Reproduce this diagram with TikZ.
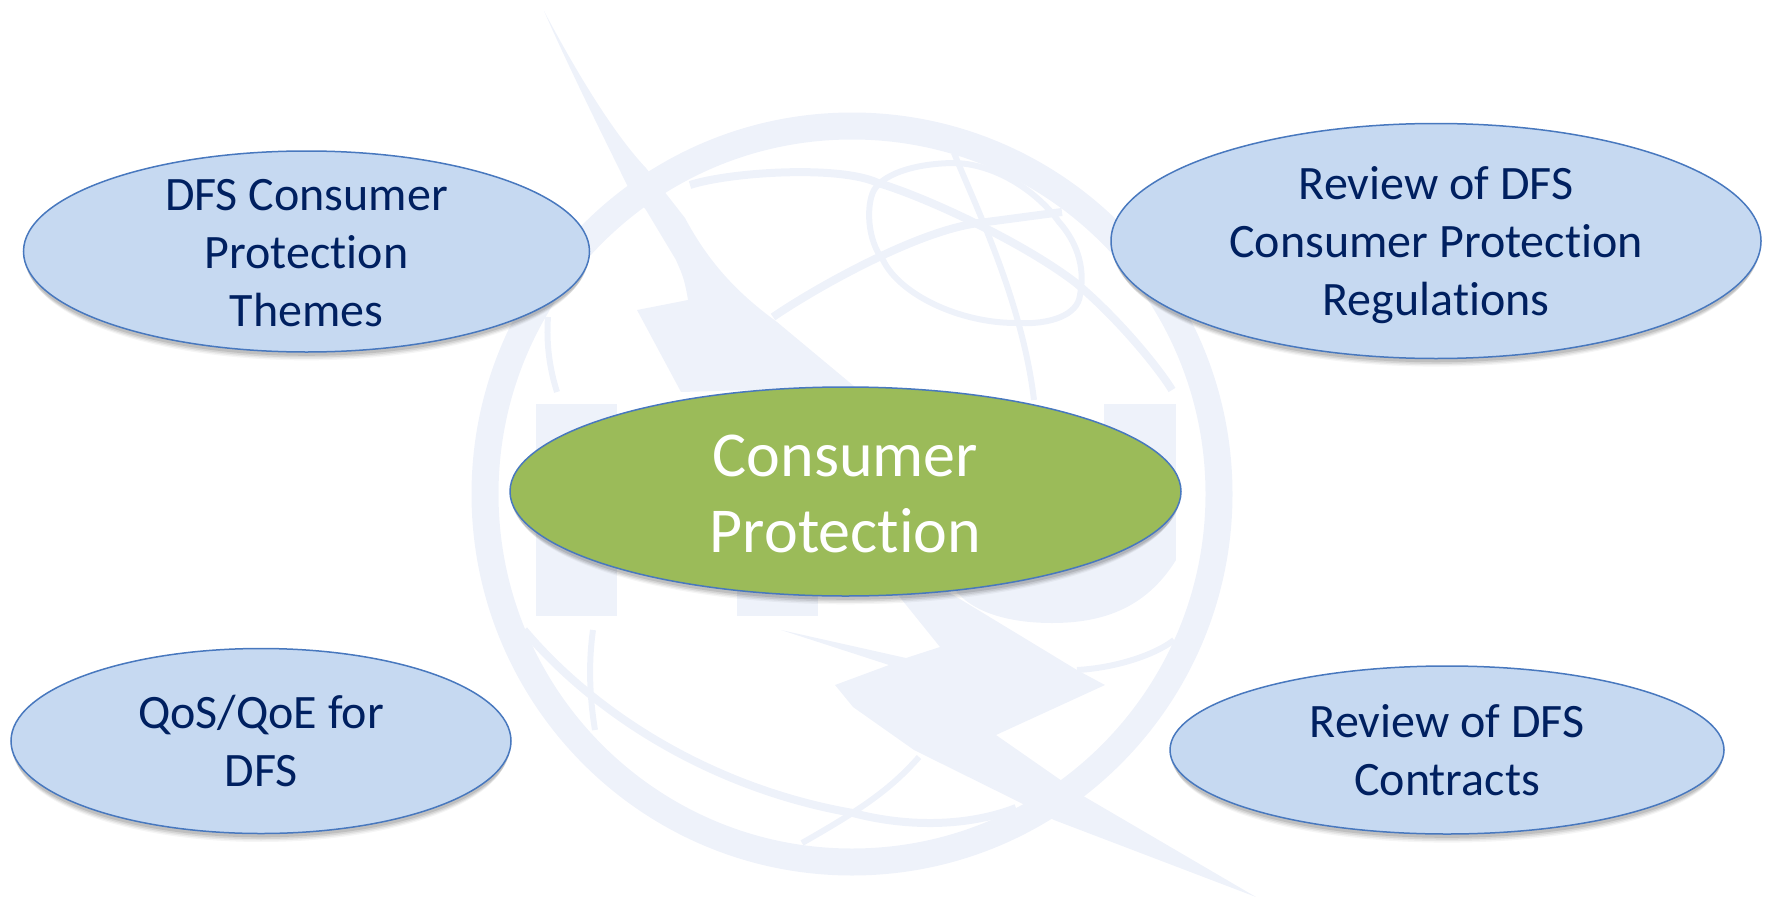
\documentclass[tikz,border=0pt]{standalone}
\usepackage{fontspec}
\setmainfont{Carlito}[Ligatures=NoCommon]
\usepackage{tikz}
\usetikzlibrary{shapes.geometric, shadows}
\definecolor{wash}{RGB}{238,242,250}
\definecolor{ovalfill}{RGB}{198,217,241}
\definecolor{ovalline}{RGB}{72,120,190}
\definecolor{corefill}{RGB}{155,187,89}
\definecolor{navy}{RGB}{0,32,96}
\begin{document}
\begin{tikzpicture}
  [
    x=1pt, y=-1pt,
    Oval/.style={ellipse, draw=ovalline, line width=1.5pt, inner sep=0pt,
      drop shadow={shadow xshift=0pt, shadow yshift=-10pt, shadow scale=0.985, opacity=0.04, fill=black},
      drop shadow={shadow xshift=0pt, shadow yshift=-8pt, shadow scale=0.99, opacity=0.06, fill=black},
      drop shadow={shadow xshift=0pt, shadow yshift=-6pt, shadow scale=0.995, opacity=0.08, fill=black},
      drop shadow={shadow xshift=0pt, shadow yshift=-4pt, shadow scale=0.998, opacity=0.1, fill=black}},
    Theme/.style={Oval, fill=ovalfill},
    Core/.style={Oval, fill=corefill},
    ThemeText/.style={align=center, text=navy, yshift=-2pt, font=\fontsize{48}{58}\selectfont},
    CoreText/.style={align=center, text=white, yshift=-2.5pt, font=\fontsize{64}{76}\selectfont},
    Thick/.style={draw=wash, line width=8pt, fill=none},
    Thin/.style={draw=wash, line width=6pt, fill=none}
  ]
  \useasboundingbox (0,0) rectangle (1769,899);
  % Watermark
  \draw[wash, line width=27pt] (852,494) ellipse (367 and 368);
  % Bolts
  \fill[wash] (544,11) .. controls (570,60) and (610,130) .. (646,168)
    -- (685,218) .. controls (710,265) and (740,295) .. (777,322)
    -- (855,387) -- (681,392) -- (637,310) -- (688,300)
    .. controls (684,275) and (680,270) .. (676,260)
    -- (646,210) -- (628,187)
    .. controls (600,130) and (570,70) .. (544,11) -- cycle;
  \fill[wash] (894,590) -- (940,647) -- (906,658) -- (781,630) -- (889,665)
    -- (835,685) -- (853,707) -- (914,750) -- (1021,803) -- (1054,820)
    -- (1256,897) -- (1085,797) -- (996,735) -- (1105,685) -- (1077,670)
    -- (1016,633) -- (945,590) -- cycle;
  % Letters
  \fill[wash] (536,404) rectangle (617,616);
  \fill[wash] (737,560) rectangle (818,616);
  \fill[wash] (1104,404) rectangle (1176,560);
  \fill[wash] (955,590) .. controls (975,615) and (1015,623) .. (1052,623)
    .. controls (1100,623) and (1145,610) .. (1176,560) -- (1104,540) -- cycle;
  % Globe lines
  \draw[Thick] (690,185) .. controls (730,172) and (840,165) .. (878,183)
    .. controls (920,195) and (1020,240) .. (1076,283)
    .. controls (1120,320) and (1160,370) .. (1172,390);
  \draw[Thick] (773,317) .. controls (820,285) and (920,230) .. (979,223) -- (1062,212);
  \draw[Thin] (956,163) .. controls (920,163) and (885,172) .. (874,190)
    .. controls (866,205) and (867,240) .. (883,260)
    .. controls (900,295) and (960,323) .. (1016,323)
    .. controls (1050,325) and (1078,315) .. (1080,295)
    .. controls (1086,265) and (1075,240) .. (1059,222)
    .. controls (1040,195) and (1000,165) .. (956,163) -- cycle;
  \draw[Thin] (954,153) .. controls (975,205) and (1022,300) .. (1034,400);
  \draw[Thin] (548,317) .. controls (546,345) and (550,370) .. (557,392);
  \draw[Thick] (524,630) .. controls (600,720) and (720,790) .. (853,813)
    .. controls (910,828) and (970,826) .. (1016,808);
  \draw[Thin] (593,630) .. controls (588,665) and (590,700) .. (595,730);
  \draw[Thin] (802,843) .. controls (860,810) and (890,790) .. (919,757);
  \draw[Thin] (1077,670) .. controls (1115,668) and (1155,655) .. (1174,640);
  % Nodes
  \node[Theme, minimum width=566pt, minimum height=201pt,
    label={[ThemeText]center:{DFS Consumer\\Protection\\Themes}}] (themes) at(306.5, 251.5) {};
  \node[Theme, minimum width=650pt, minimum height=235pt,
    label={[ThemeText, yshift=-2.5pt]center:{Review of DFS\\Consumer Protection\\Regulations}}] (rules) at(1436, 241) {};
  \node[Core, minimum width=671pt, minimum height=209pt,
    label={[CoreText]center:{Consumer\\Protection}}] (core) at(845.5, 491.5) {};
  \node[Theme, minimum width=500pt, minimum height=185pt,
    label={[ThemeText, yshift=2.5pt]center:{QoS/QoE for\\DFS}}] (qos) at(261, 741) {};
  \node[Theme, minimum width=554pt, minimum height=168pt,
    label={[ThemeText, yshift=1.5pt]center:{Review of DFS\\Contracts}}] (contracts) at(1447, 750) {};
\end{tikzpicture}
\end{document}
